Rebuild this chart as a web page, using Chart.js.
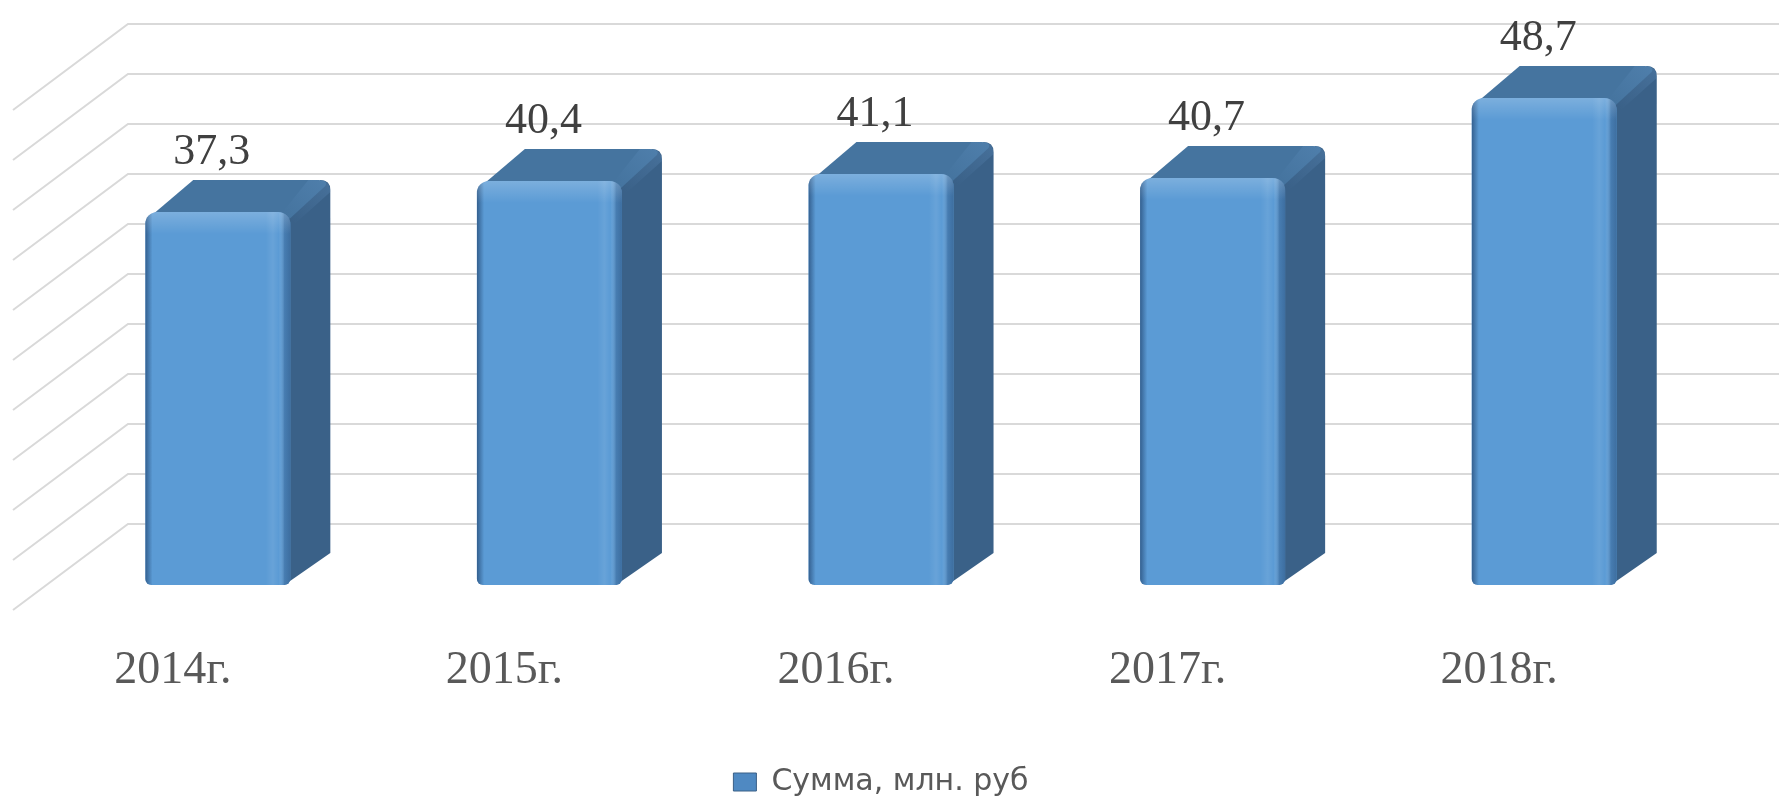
<!DOCTYPE html>
<html>
<head>
<meta charset="utf-8">
<script src="https://cdn.jsdelivr.net/npm/chart.js@4.4.1/dist/chart.umd.min.js"></script>
<style>
  html, body { margin: 0; padding: 0; background: #fff; }
</style>
</head>
<body>
<canvas id="sumChart" width="1779" height="797"></canvas>
<script>
// data
const years = ["2014г.", "2015г.", "2016г.", "2017г.", "2018г."];
const sums = [37.3, 40.4, 41.1, 40.7, 48.7];
const seriesName = "Сумма, млн. руб";
const axisMax = 50;
const axisStep = 5;

// fake 3d offsets (px)
const barDepth = { x: 40, y: -32 };
const wallBack = { x: 76, y: -61 };
const wallFront = { x: -39, y: 25 };

const fmt = v => v.toFixed(1).replace(".", ",");

function barBox(bar) {
  const p = bar.getProps(["x", "y", "base", "width"], true);
  return { l: p.x - p.width / 2, r: p.x + p.width / 2, top: p.y, base: p.base, x: p.x, w: p.width };
}

// walls, gridlines, side and top faces of the bars
const fake3d = {
  id: "fake3d",
  beforeDatasetsDraw(chart) {
    const { ctx, chartArea } = chart;
    const yScale = chart.scales.y;
    const backX = chartArea.left + wallBack.x;
    const frontX = chartArea.left + wallFront.x;
    ctx.save();
    ctx.strokeStyle = "#d9d9d9";
    ctx.lineWidth = 2;
    yScale.ticks.forEach(t => {
      const py = yScale.getPixelForValue(t.value);
      ctx.beginPath();
      ctx.moveTo(frontX, py + wallFront.y);
      ctx.lineTo(backX, py + wallBack.y);
      ctx.lineTo(chart.width, py + wallBack.y);
      ctx.stroke();
    });

    const dx = barDepth.x, dy = barDepth.y;
    chart.getDatasetMeta(0).data.forEach(bar => {
      const { l, r, top, base } = barBox(bar);
      // side
      ctx.fillStyle = "#3a6188";
      ctx.beginPath();
      ctx.moveTo(r - 6, top + 6);
      ctx.lineTo(r + dx - 10, top + dy);
      ctx.quadraticCurveTo(r + dx, top + dy, r + dx, top + dy + 10);
      ctx.lineTo(r + dx, base + dy);
      ctx.lineTo(r - 6, base);
      ctx.closePath();
      ctx.fill();
      // top
      ctx.fillStyle = "#45749f";
      ctx.beginPath();
      ctx.moveTo(l + 8, top + 2);
      ctx.lineTo(l + 8 + dx, top + dy);
      ctx.lineTo(r + dx - 12, top + dy);
      ctx.quadraticCurveTo(r + dx - 2, top + dy, r + dx - 5, top + dy + 6);
      ctx.lineTo(r - 2, top + 8);
      ctx.closePath();
      ctx.fill();
      // lighter bevel on the back-right corner
      const gb = ctx.createLinearGradient(r, top + 8, r + dx, top + dy);
      gb.addColorStop(0, "rgba(110,160,210,0)");
      gb.addColorStop(1, "rgba(110,160,210,0.25)");
      ctx.fillStyle = gb;
      ctx.beginPath();
      ctx.moveTo(r - 14, top + 8);
      ctx.lineTo(r + dx - 22, top + dy);
      ctx.lineTo(r + dx - 12, top + dy);
      ctx.quadraticCurveTo(r + dx, top + dy, r + dx, top + dy + 12);
      ctx.lineTo(r + 2, top + 14);
      ctx.closePath();
      ctx.fill();
    });
    ctx.restore();
  },
  afterDatasetsDraw(chart) {
    const { ctx } = chart;
    chart.getDatasetMeta(0).data.forEach((bar, i) => {
      const { l, r, top, base, x, w } = barBox(bar);
      ctx.save();
      ctx.beginPath();
      ctx.roundRect(l, top, w, base - top, [12, 12, 6, 6]);
      ctx.clip();
      const g = ctx.createLinearGradient(l, 0, r, 0);
      g.addColorStop(0, "rgba(25,55,95,0.6)");
      g.addColorStop(0.05, "rgba(25,55,95,0)");
      g.addColorStop(0.83, "rgba(255,255,255,0)");
      g.addColorStop(0.88, "rgba(255,255,255,0.08)");
      g.addColorStop(0.92, "rgba(255,255,255,0)");
      g.addColorStop(0.96, "rgba(25,55,95,0.3)");
      g.addColorStop(1, "rgba(25,55,95,0.45)");
      ctx.fillStyle = g;
      ctx.fillRect(l, top, w, base - top);
      const gv = ctx.createLinearGradient(0, top, 0, top + 22);
      gv.addColorStop(0, "rgba(255,255,255,0.2)");
      gv.addColorStop(1, "rgba(255,255,255,0)");
      ctx.fillStyle = gv;
      ctx.fillRect(l, top, w, 22);
      ctx.restore();

      ctx.save();
      ctx.font = "44px 'Liberation Serif'";
      ctx.fillStyle = "#404040";
      ctx.textAlign = "center";
      ctx.textBaseline = "alphabetic";
      ctx.fillText(fmt(sums[i]), x - 6, top - 48);
      ctx.restore();
    });
  }
};

const ctx = document.getElementById("sumChart").getContext("2d");
const chart = new Chart(ctx, {
  type: "bar",
  data: {
    labels: years,
    datasets: [
      {
        label: seriesName,
        data: sums,
        backgroundColor: "#5b9bd5",
        borderWidth: 0,
        borderSkipped: false,
        borderRadius: { topLeft: 12, topRight: 12, bottomLeft: 6, bottomRight: 6 },
        categoryPercentage: 1,
        barPercentage: 0.4375
      }
    ]
  },
  options: {
    responsive: false,
    animation: false,
    layout: { padding: { left: 52, right: 69, top: 85, bottom: -10 } },
    plugins: {
      tooltip: { enabled: false },
      legend: {
        position: "bottom",
        labels: {
          font: { family: "DejaVu Sans", size: 30 },
          color: "#595959",
          boxWidth: 23,
          boxHeight: 18,
          padding: 10,
          generateLabels: () => [{
            text: seriesName,
            fillStyle: "#4f89c2",
            strokeStyle: "#3a6087",
            fontColor: "#595959",
            lineWidth: 1,
            datasetIndex: 0,
            hidden: false
          }]
        }
      }
    },
    scales: {
      x: {
        grid: { display: false, drawTicks: false },
        border: { display: false },
        ticks: {
          font: { family: "Liberation Serif", size: 46 },
          color: "#595959",
          padding: 58,
          labelOffset: -45,
          maxRotation: 0
        },
        afterFit: scale => { scale.height = 172; }
      },
      y: {
        display: false,
        min: 0,
        max: axisMax,
        ticks: { stepSize: axisStep }
      }
    }
  },
  plugins: [fake3d]
});
</script>
</body>
</html>
